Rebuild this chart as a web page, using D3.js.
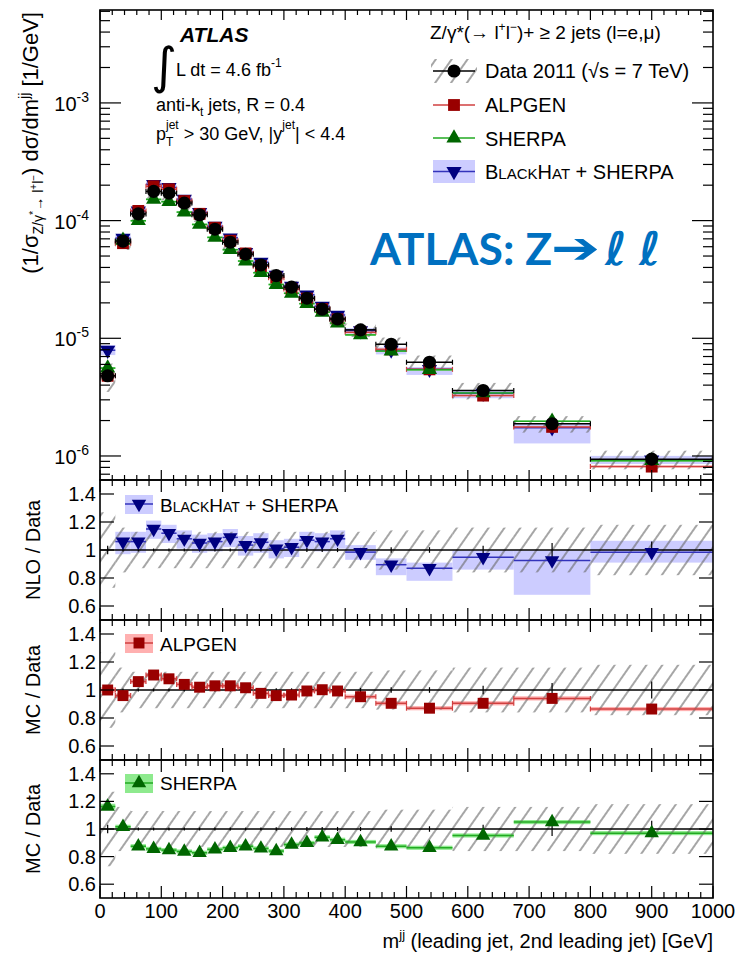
<!DOCTYPE html>
<html>
<head>
<meta charset="utf-8">
<script src="https://cdnjs.cloudflare.com/ajax/libs/d3/7.8.5/d3.min.js"></script>
<style>
body{margin:0;background:#fff;}
text{font-family:"Liberation Sans",Arial,sans-serif;fill:#000;white-space:pre;}
</style>
</head>
<body>
<div id="chart"></div>
<script>
// m_jj bins [GeV]
var binEdges=[0,25,50,75,100,125,150,175,200,225,250,275,300,325,350,375,400,450,500,575,675,800,1000];
var xTickVals=[0,100,200,300,400,500,600,700,800,900,1000];

// data 2011: 1/sigma dsigma/dmjj
var dataVals=[4.8e-6,6.7e-5,1.14e-4,1.77e-4,1.71e-4,1.41e-4,1.12e-4,8.45e-5,6.55e-5,5.18e-5,4.2e-5,3.41e-5,2.72e-5,2.19e-5,1.77e-5,1.46e-5,1.18e-5,8.9e-6,6.26e-6,3.6e-6,1.88e-6,9.4e-7];
var dataStat=[0.03,0.01,0.01,0.01,0.01,0.01,0.01,0.01,0.01,0.01,0.01,0.012,0.012,0.015,0.015,0.015,0.015,0.02,0.02,0.03,0.05,0.06];
var dataSyst=[0.27,0.16,0.13,0.13,0.13,0.13,0.13,0.13,0.13,0.13,0.13,0.13,0.13,0.13,0.13,0.13,0.13,0.14,0.14,0.16,0.16,0.18];

// ratios to data
var nloRatio=[1.65,1.06,1.06,1.15,1.12,1.08,1.05,1.06,1.09,1.035,1.055,1.01,1.02,1.07,1.06,1.08,0.985,0.895,0.87,0.948,0.925,0.984];
var nloHi=[1.82,1.13,1.13,1.21,1.18,1.14,1.11,1.12,1.15,1.1,1.12,1.07,1.08,1.13,1.12,1.14,1.035,0.94,0.91,0.995,0.995,1.066];
var nloLo=[1.5,0.97,0.98,1.08,1.05,1.01,0.98,0.99,1.02,0.96,0.98,0.94,0.95,1.0,0.99,1.01,0.93,0.82,0.78,0.86,0.68,0.91];
var alpRatio=[1.0,0.96,1.06,1.107,1.08,1.04,1.02,1.03,1.03,1.016,0.976,0.96,0.964,0.993,1.002,0.993,0.952,0.905,0.87,0.905,0.94,0.864];
var alpErr=[0.02,0.015,0.015,0.015,0.015,0.015,0.015,0.015,0.015,0.015,0.015,0.015,0.015,0.015,0.015,0.015,0.015,0.015,0.015,0.015,0.015,0.015];
var sheRatio=[1.163,1.016,0.875,0.856,0.847,0.837,0.828,0.852,0.864,0.875,0.859,0.84,0.887,0.899,0.94,0.922,0.906,0.875,0.864,0.953,1.05,0.97];
var sheErr=[0.02,0.015,0.015,0.015,0.015,0.015,0.015,0.015,0.015,0.015,0.015,0.015,0.015,0.015,0.015,0.015,0.015,0.015,0.015,0.015,0.015,0.015];

var ratioTickVals=[0.6,0.8,1,1.2,1.4];
var ratioTickLabels=["0.6","0.8","1","1.2","1.4"];
var decadeVals=[1e-6,1e-5,1e-4,1e-3];
var decadeExps=["-6","-5","-4","-3"];

var svgWidth=740, svgHeight=959;
var plotL=100, plotR=713;

var cData="#000", cAlp="#990000", cAlpLine="#d04040", cAlpBand="#ffb0b0";
var cShe="#006600", cSheLine="#22aa22", cSheBand="#8eea8e";
var cNlo="#000080", cNloLine="#3333bb", cNloBand="#ccccff";

var svg=d3.select("#chart").append("svg")
  .attr("width",svgWidth)
  .attr("height",svgHeight);

var defs=svg.append("defs");
var hatch=defs.append("pattern")
  .attr("id","hatch")
  .attr("patternUnits","userSpaceOnUse")
  .attr("width",13).attr("height",13)
  .attr("patternTransform","rotate(35)");
hatch.append("line")
  .attr("x1",1).attr("y1",0).attr("x2",1).attr("y2",13)
  .attr("stroke","#6a6a6a").attr("stroke-width",1.2);

var xScale=d3.scaleLinear().domain([0,1000]).range([plotL,plotR]);
var yMain=d3.scaleLog().domain([6.25e-7,6.16e-3]).range([480,10]);
var yNlo=d3.scaleLinear().domain([0.5,1.5]).range([620,480]);
var yAlp=d3.scaleLinear().domain([0.5,1.5]).range([760,620]);
var ySh=d3.scaleLinear().domain([0.5,1.5]).range([898,760]);

var bins=dataVals.map(function(v,i){
  return {lo:binEdges[i],hi:binEdges[i+1],c:(binEdges[i]+binEdges[i+1])/2,
    data:v,stat:dataStat[i],syst:dataSyst[i],
    nlo:nloRatio[i],nloHi:nloHi[i],nloLo:nloLo[i],
    alp:alpRatio[i],alpErr:alpErr[i],
    she:sheRatio[i],sheErr:sheErr[i]};
});

function addClip(id,top,bottom){
  defs.append("clipPath").attr("id",id)
    .append("rect").attr("x",plotL).attr("y",top).attr("width",plotR-plotL).attr("height",bottom-top);
}
addClip("clipMain",10,480);
addClip("clipNlo",480,620);
addClip("clipAlp",620,760);
addClip("clipSh",760,898);

var triUp=d3.symbol().type(d3.symbolTriangle);
var sq=d3.symbol().type(d3.symbolSquare);
var circ=d3.symbol().type(d3.symbolCircle);

// ---------- main panel ----------
var gMain=svg.append("g").attr("clip-path","url(#clipMain)");

function bandRects(g,yS,lo,hi,fill){
  g.selectAll(null).data(bins).enter().append("rect")
    .attr("x",d=>xScale(d.lo))
    .attr("width",d=>xScale(d.hi)-xScale(d.lo))
    .attr("y",d=>yS(hi(d)))
    .attr("height",d=>yS(lo(d))-yS(hi(d)))
    .attr("fill",fill);
}
function binLines(g,yS,val,color,caps){
  g.selectAll(null).data(bins).enter().append("line")
    .attr("x1",d=>xScale(d.lo)).attr("x2",d=>xScale(d.hi))
    .attr("y1",d=>yS(val(d))).attr("y2",d=>yS(val(d)))
    .attr("stroke",color).attr("stroke-width",1.5);
  if(caps){
    bins.forEach(function(d){
      [d.lo,d.hi].forEach(function(e){
        g.append("line").attr("x1",xScale(e)).attr("x2",xScale(e))
          .attr("y1",yS(val(d))-2.5).attr("y2",yS(val(d))+2.5)
          .attr("stroke",color).attr("stroke-width",1.2);
      });
    });
  }
}
function markers(g,yS,val,sym,size,color,rot){
  g.selectAll(null).data(bins).enter().append("path")
    .attr("d",sym.size(size)())
    .attr("transform",d=>"translate("+xScale(d.c)+","+yS(val(d))+")"+(rot?" rotate(180)":""))
    .attr("fill",color);
}

bandRects(gMain,yMain,d=>d.data*d.nloLo,d=>d.data*d.nloHi,cNloBand);
bandRects(gMain,yMain,d=>d.data*(d.alp-d.alpErr),d=>d.data*(d.alp+d.alpErr),cAlpBand);
bandRects(gMain,yMain,d=>d.data*(d.she-d.sheErr),d=>d.data*(d.she+d.sheErr),cSheBand);
bandRects(gMain,yMain,d=>d.data*(1-d.syst),d=>d.data*(1+d.syst),"url(#hatch)");
binLines(gMain,yMain,d=>d.data*d.nlo,cNloLine,false);
binLines(gMain,yMain,d=>d.data*d.alp,cAlpLine,true);
binLines(gMain,yMain,d=>d.data*d.she,cSheLine,false);
binLines(gMain,yMain,d=>d.data,"#000",true);
markers(gMain,yMain,d=>d.data*d.nlo,triUp,100,cNlo,true);
markers(gMain,yMain,d=>d.data*d.alp,sq,140,cAlp,false);
markers(gMain,yMain,d=>d.data*d.she,triUp,100,cShe,false);
markers(gMain,yMain,d=>d.data,circ,135,cData,false);

// ---------- ratio panels ----------
function ratioPanel(yS,clip,val,lo,hi,bandCol,lineCol,sym,size,mCol,rot,caps){
  var g=svg.append("g").attr("clip-path","url(#"+clip+")");
  bandRects(g,yS,lo,hi,bandCol);
  bandRects(g,yS,d=>1-d.syst,d=>1+d.syst,"url(#hatch)");
  g.append("line").attr("x1",plotL).attr("x2",plotR)
    .attr("y1",yS(1)).attr("y2",yS(1)).attr("stroke","#000").attr("stroke-width",1.3);
  g.selectAll(null).data(bins).enter().append("line")
    .attr("x1",d=>xScale(d.c)).attr("x2",d=>xScale(d.c))
    .attr("y1",d=>yS(1+d.stat)).attr("y2",d=>yS(1-d.stat))
    .attr("stroke","#000").attr("stroke-width",1.2);
  binLines(g,yS,val,lineCol,caps);
  markers(g,yS,val,sym,size,mCol,rot);
}
ratioPanel(yNlo,"clipNlo",d=>d.nlo,d=>d.nloLo,d=>d.nloHi,cNloBand,cNloLine,triUp,90,cNlo,true,false);
ratioPanel(yAlp,"clipAlp",d=>d.alp,d=>d.alp-d.alpErr,d=>d.alp+d.alpErr,cAlpBand,cAlpLine,sq,120,cAlp,false,true);
ratioPanel(ySh,"clipSh",d=>d.she,d=>d.she-d.sheErr,d=>d.she+d.sheErr,cSheBand,cSheLine,triUp,90,cShe,false,false);

// ---------- frames and ticks ----------
var xTickAll=d3.range(0,1001,20);
function frame(top,bottom,yMaj,yMin,yMajLen,yMinLen,xMajLen,xMinLen){
  var g=svg.append("g").attr("stroke","#000").attr("stroke-width",1.2);
  xTickAll.forEach(function(v){
    var L=(v%100===0)?xMajLen:xMinLen, x=xScale(v);
    g.append("line").attr("x1",x).attr("x2",x).attr("y1",bottom).attr("y2",bottom-L);
    g.append("line").attr("x1",x).attr("x2",x).attr("y1",top).attr("y2",top+L);
  });
  yMaj.forEach(function(y){
    g.append("line").attr("x1",plotL).attr("x2",plotL+yMajLen).attr("y1",y).attr("y2",y);
    g.append("line").attr("x1",plotR).attr("x2",plotR-yMajLen).attr("y1",y).attr("y2",y);
  });
  yMin.forEach(function(y){
    g.append("line").attr("x1",plotL).attr("x2",plotL+yMinLen).attr("y1",y).attr("y2",y);
    g.append("line").attr("x1",plotR).attr("x2",plotR-yMinLen).attr("y1",y).attr("y2",y);
  });
  g.append("rect").attr("x",plotL).attr("y",top).attr("width",plotR-plotL).attr("height",bottom-top)
    .attr("fill","none").attr("stroke-width",1.6);
}
var mainMinor=[];
[-7,-6,-5,-4,-3].forEach(function(e){
  d3.range(2,10).forEach(function(k){
    var v=k*Math.pow(10,e);
    if(v>yMain.domain()[0]&&v<yMain.domain()[1]) mainMinor.push(yMain(v));
  });
});
frame(10,480,decadeVals.map(v=>yMain(v)),mainMinor,21,10,10,5);
frame(480,620,ratioTickVals.map(v=>yNlo(v)),[],14,7,12,6);
frame(620,760,ratioTickVals.map(v=>yAlp(v)),[],14,7,12,6);
frame(760,898,ratioTickVals.map(v=>ySh(v)),[],14,7,12,6);

// tick labels
decadeVals.forEach(function(v,i){
  var t=svg.append("text").attr("x",89).attr("y",yMain(v)+8).attr("text-anchor","end").style("font-size","20px");
  t.append("tspan").text("10");
  t.append("tspan").attr("dy",-9).style("font-size","14px").text(decadeExps[i]);
});
[yNlo,yAlp,ySh].forEach(function(yS){
  ratioTickVals.forEach(function(v,i){
    svg.append("text").attr("x",96).attr("y",yS(v)+7).attr("text-anchor","end")
      .style("font-size","20px").text(ratioTickLabels[i]);
  });
});
xTickVals.forEach(function(v){
  svg.append("text").attr("x",xScale(v)).attr("y",918).attr("text-anchor","middle")
    .style("font-size","20px").text(v);
});

// rich text helper: pieces laid one after the other, "stack" shares x with next piece
function rich(g,x,y,parts){
  var cur=x, pend=0;
  parts.forEach(function(p){
    var t=g.append("text").attr("x",cur).attr("y",y+(p.dy||0))
      .style("font-size",(p.size||18)+"px").text(p.t);
    if(p.style) t.style("font-style",p.style);
    if(p.weight) t.style("font-weight",p.weight);
    if(p.family) t.style("font-family",p.family);
    var w=t.node().getComputedTextLength();
    if(p.stack){ pend=w; }
    else { cur+=Math.max(w,pend); pend=0; }
  });
  return cur-x;
}

// axis titles
var gy=svg.append("g");
var wy=rich(gy,0,0,[
  {t:"(1/σ",size:22},{t:"Z/γ",size:14,dy:5},{t:"*",size:11,dy:-1},{t:"→ l",size:14,dy:5},
  {t:"+",size:10,dy:-1},{t:"l",size:14,dy:5},{t:"−",size:10,dy:-1},
  {t:") dσ/dm",size:22},{t:"jj",size:14,dy:-9},{t:" [1/GeV]",size:22}]);
gy.attr("transform","translate(38,"+(12+wy)+") rotate(-90)");

var gx=svg.append("g");
var wx=rich(gx,0,0,[{t:"m",size:20},{t:"jj",size:13,dy:-9},{t:" (leading jet, 2nd leading jet) [GeV]",size:20}]);
gx.attr("transform","translate("+(plotR-wx)+",948)");

[["NLO / Data",550],["MC / Data",690],["MC / Data",829]].forEach(function(a){
  svg.append("text").attr("transform","translate(40,"+a[1]+") rotate(-90)")
    .attr("text-anchor","middle").style("font-size","20px").text(a[0]);
});

// top-left labels
rich(svg,180,42,[{t:"ATLAS",size:21,weight:"bold",style:"italic"}]);
svg.append("text").attr("x",151).attr("y",83).style("font-size","50px")
  .style("font-family","DejaVu Sans").text("∫");
rich(svg,176,76,[{t:"L dt = 4.6 fb",size:18},{t:"-1",size:12,dy:-9}]);
rich(svg,156,111,[{t:"anti-k",size:18},{t:"t",size:12,dy:5},{t:" jets, R = 0.4",size:18}]);
rich(svg,156,140,[{t:"p",size:18},{t:"T",size:12,dy:6,stack:true},{t:"jet",size:12,dy:-11},
  {t:" > 30 GeV, |y",size:18},{t:"jet",size:12,dy:-11},{t:"| < 4.4",size:18}]);

// legend
rich(svg,430,39,[{t:"Z/γ*(→ l",size:19},{t:"+",size:12,dy:-8},{t:"l",size:19},{t:"−",size:12,dy:-8},
  {t:")+ ≥ 2 jets (l=e,μ)",size:19}]);

function blackhat(g,x,y,big,small){
  rich(g,x,y,[{t:"B",size:big},{t:"LACK",size:small},{t:"H",size:big},{t:"AT",size:small},{t:" + SHERPA",size:big}]);
}
var lg=svg.append("g");
var legX1=433, legX2=475, legXm=454;
lg.append("rect").attr("x",legX1-2).attr("y",59).attr("width",legX2-legX1+4).attr("height",24).attr("fill","url(#hatch)");
lg.append("line").attr("x1",legX1).attr("x2",legX2).attr("y1",71).attr("y2",71).attr("stroke","#000").attr("stroke-width",1.3);
lg.append("path").attr("d",circ.size(135)()).attr("transform","translate("+legXm+",71)").attr("fill",cData);
rich(lg,485,78,[{t:"Data 2011 (",size:20},{t:"√",size:20},{t:"s = 7 TeV)",size:20}]);

lg.append("line").attr("x1",legX1).attr("x2",legX2).attr("y1",105).attr("y2",105).attr("stroke",cAlpLine).attr("stroke-width",1.5);
lg.append("path").attr("d",sq.size(140)()).attr("transform","translate("+legXm+",105)").attr("fill",cAlp);
rich(lg,485,112,[{t:"ALPGEN",size:20}]);

lg.append("line").attr("x1",legX1).attr("x2",legX2).attr("y1",138).attr("y2",138).attr("stroke",cSheLine).attr("stroke-width",1.5);
lg.append("path").attr("d",triUp.size(100)()).attr("transform","translate("+legXm+",138)").attr("fill",cShe);
rich(lg,485,146,[{t:"SHERPA",size:20}]);

lg.append("rect").attr("x",legX1).attr("y",160).attr("width",legX2-legX1).attr("height",23).attr("fill",cNloBand);
lg.append("line").attr("x1",legX1).attr("x2",legX2).attr("y1",171.5).attr("y2",171.5).attr("stroke",cNloLine).attr("stroke-width",1.5);
lg.append("path").attr("d",triUp.size(100)()).attr("transform","translate("+legXm+",171.5) rotate(180)").attr("fill",cNlo);
blackhat(lg,485,179,20,15);

// ratio panel legends
function ratioLegend(y,band,line,sym,size,col,rot){
  svg.append("rect").attr("x",125).attr("y",y-9).attr("width",28).attr("height",19).attr("fill",band);
  svg.append("line").attr("x1",125).attr("x2",153).attr("y1",y).attr("y2",y).attr("stroke",line).attr("stroke-width",1.5);
  svg.append("path").attr("d",sym.size(size)()).attr("transform","translate(139,"+y+")"+(rot?" rotate(180)":"")).attr("fill",col);
}
ratioLegend(504,cNloBand,cNloLine,triUp,90,cNlo,true);
blackhat(svg,160,512,19,14);
ratioLegend(643,cAlpBand,cAlpLine,sq,120,cAlp,false);
rich(svg,160,651,[{t:"ALPGEN",size:19}]);
ratioLegend(783,cSheBand,cSheLine,triUp,90,cShe,false);
rich(svg,160,790,[{t:"SHERPA",size:19}]);

// overlay title
var blue="#0070c0";
svg.append("text").attr("x",370).attr("y",265).style("font-size","44.5px").style("font-weight","bold")
  .style("font-family","Lato, 'Open Sans', sans-serif").style("fill",blue).text("ATLAS: Z");
svg.append("text").attr("x",551).attr("y",263).style("font-size","44px")
  .style("font-family","'DejaVu Sans'").style("fill",blue)
  .attr("textLength",49).attr("lengthAdjust","spacingAndGlyphs").text("➔");
svg.append("text").attr("x",605).attr("y",265).style("font-size","46px").style("font-weight","bold")
  .style("font-family","'DejaVu Sans'").style("fill",blue).text("ℓ");
svg.append("text").attr("x",639).attr("y",265).style("font-size","46px").style("font-weight","bold")
  .style("font-family","'DejaVu Sans'").style("fill",blue).text("ℓ");
</script>
</body>
</html>
